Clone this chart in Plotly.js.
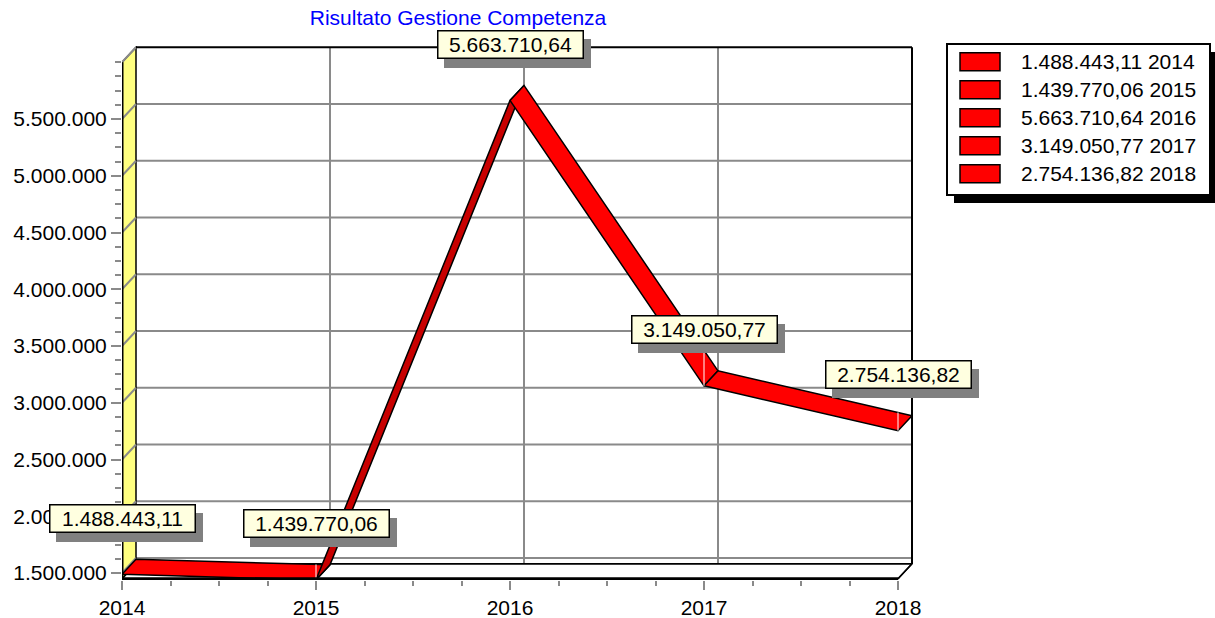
<!DOCTYPE html>
<html>
<head>
<meta charset="utf-8">
<script src="https://cdn.plot.ly/plotly-3.0.1.min.js"></script>
<style>html,body{margin:0;padding:0;background:#fff;}#chart{width:1215px;height:618px;}</style>
</head>
<body>
<div id="chart"></div>
<script>
// ---- data ----
const years = [2014, 2015, 2016, 2017, 2018];
const values = [1488443.11, 1439770.06, 5663710.64, 3149050.77, 2754136.82];
const valueLabels = ['1.488.443,11', '1.439.770,06', '5.663.710,64', '3.149.050,77', '2.754.136,82'];
const xTickLabels = ['2014', '2015', '2016', '2017', '2018'];
const yTickVals = [1500000, 2000000, 2500000, 3000000, 3500000, 4000000, 4500000, 5000000, 5500000, 6000000];
const yTickLabels = ['1.500.000', '2.000.000', '2.500.000', '3.000.000', '3.500.000', '4.000.000', '4.500.000', '5.000.000', '5.500.000', ''];
const titleText = 'Risultato Gestione Competenza';

// ---- geometry (style) ----
const FONT = 'Liberation Sans, Arial, Helvetica, sans-serif';
const L = 122, T = 46, B = 580, R = 913;
const PX_PER_YEAR = 194;
const PX_PER_UNIT = 56.75 / 500000;
const Y15_PX = 573;               // pixel row of 1.500.000
const yBottom = 1500000 - (B - Y15_PX) / PX_PER_UNIT;
const yTop = yBottom + (B - T) / PX_PER_UNIT;
const xMin = years[0];
const xMax = xMin + (R - L) / PX_PER_YEAR;
const DXP = 14, DYP = 15;          // depth offset in px
const DX = DXP / PX_PER_YEAR;
const DY = DYP / PX_PER_UNIT;
const FLOOR = 1450000;
const TOPV = 6000000;
const X0 = years[0], X1 = years[years.length - 1];
const MINOR_STEP = 125000;
const yMinorVals = [];
for (let v = yTickVals[0]; v <= TOPV; v += MINOR_STEP) yMinorVals.push(v);

const GRID = '#8a8a8a';
const shapes = [];
const line = (x0, y0, x1, y1, color, width, layer) => shapes.push({type: 'line', xref: 'x', yref: 'y', x0, y0, x1, y1, line: {color, width}, layer: layer || 'below'});
const path = (pts, fill, color, width, layer, ref) => {
  let d = pts.map((p, i) => (i ? 'L' : 'M') + p[0] + ',' + p[1]).join(' ') + ' Z';
  shapes.push({type: 'path', xref: ref || 'x', yref: ref || 'y', path: d, fillcolor: fill, line: {color, width}, layer: layer || 'below'});
};

// floor
path([[X0, FLOOR], [X1, FLOOR], [X1 + DX, FLOOR + DY], [X0 + DX, FLOOR + DY]], '#ffffff', '#000', 1.5);
// back wall gridlines
for (const v of yTickVals.slice(0, -1)) line(X0 + DX, v + DY, X1 + DX, v + DY, GRID, 2);
for (const yr of years.slice(1, -1)) line(yr + DX, FLOOR + DY, yr + DX, TOPV + DY, GRID, 2);
// left wall
path([[X0, FLOOR], [X0, TOPV], [X0 + DX, TOPV + DY], [X0 + DX, FLOOR + DY]], '#ffff80', '#000', 1.5);
for (const v of yTickVals) line(X0, v, X0 + DX, v + DY, GRID, 2);
// back wall outline
line(X0 + DX, TOPV + DY, X1 + DX, TOPV + DY, '#000', 2);
line(X1 + DX, FLOOR + DY, X1 + DX, TOPV + DY, '#000', 2);
line(X1, FLOOR, X1 + DX, FLOOR + DY, '#000', 1.5);
line(X0 + DX, FLOOR + DY, X1 + DX, FLOOR + DY, '#000', 1.5);
// front edges (above ribbon)
line(X0, FLOOR, X0, TOPV, '#000', 3, 'above');
line(X0, FLOOR, X1, FLOOR, '#000', 3, 'above');

// ---- ribbon traces ----
const traces = [];
for (let i = 0; i < years.length - 1; i++) {
  const x1 = years[i], x2 = years[i + 1], v1 = values[i], v2 = values[i + 1];
  const dxp = (x2 - x1) * PX_PER_YEAR, dyp = -(v2 - v1) * PX_PER_UNIT;
  const cross = dxp * (-DYP) - dyp * DXP;
  traces.push({
    type: 'scatter', mode: 'lines', hoverinfo: 'skip', showlegend: false,
    x: [x1, x2, x2 + DX, x1 + DX, x1],
    y: [v1, v2, v2 + DY, v1 + DY, v1],
    fill: 'toself', fillcolor: cross > 0 ? '#c80000' : '#ff0000',
    line: {color: '#000', width: 1.5}
  });
}
// seams at vertices
for (let i = 0; i < years.length; i++) {
  const x = years[i], v = values[i];
  const cands = [v];
  if (i > 0) {
    const xa = years[i - 1] + DX, va = values[i - 1] + DY, xb = years[i] + DX, vb = values[i] + DY;
    if (x >= xa && x <= xb) cands.push(va + (vb - va) * (x - xa) / (xb - xa));
  }
  if (i < years.length - 1) {
    const xa = years[i] + DX, va = values[i] + DY, xb = years[i + 1] + DX, vb = values[i + 1] + DY;
    if (x >= xa && x <= xb) cands.push(va + (vb - va) * (x - xa) / (xb - xa));
  }
  traces.push({type: 'scatter', mode: 'lines', hoverinfo: 'skip', showlegend: false,
    x: [x, x], y: [v, Math.max(...cands)], line: {color: '#ffffff', width: 1}});
}

// ---- annotations ----
const annotations = [];
const SHIFT = 56;
for (let i = 0; i < years.length; i++) {
  const base = {x: years[i], y: values[i], xref: 'x', yref: 'y', showarrow: false,
    xanchor: 'center', yanchor: 'middle', width: 140, height: 22, borderpad: 2, borderwidth: 1.5, align: 'center'};
  annotations.push(Object.assign({}, base, {text: ' ', xshift: 7, yshift: SHIFT - 9, bgcolor: '#808080', bordercolor: '#808080', font: {family: FONT, size: 21, color: '#808080'}}));
  annotations.push(Object.assign({}, base, {text: valueLabels[i], yshift: SHIFT, bgcolor: '#ffffe0', bordercolor: '#000', font: {family: FONT, size: 21, color: '#000'}}));
}
// legend (drawn manually)
const px2x = px => (px - L) / (R - L);
const px2y = py => (B - py) / (B - T);
const rectP = (x0, y0, x1, y1, fill, color, width) => shapes.push({type: 'rect', xref: 'paper', yref: 'paper', x0: px2x(x0), x1: px2x(x1), y0: px2y(y1), y1: px2y(y0), fillcolor: fill, line: {color, width}, layer: 'above'});
rectP(954, 52, 1217, 203, '#000', '#000', 0);
rectP(947, 44, 1210, 195, '#fff', '#000', 2);
for (let i = 0; i < years.length; i++) {
  const cy = 61.7 + 28 * i;
  rectP(960, cy - 9, 1000, cy + 9, '#ff0000', '#000', 1.5);
  annotations.push({xref: 'paper', yref: 'paper', x: px2x(1019), y: px2y(cy), xanchor: 'left', yanchor: 'middle', showarrow: false,
    text: valueLabels[i] + ' ' + xTickLabels[i], font: {family: FONT, size: 21, color: '#000'}});
}

const layout = {
  width: 1215, height: 618,
  margin: {l: L, r: 1215 - R, t: T, b: 618 - B, pad: 0},
  paper_bgcolor: '#fff', plot_bgcolor: '#fff',
  showlegend: false,
  title: {text: titleText, xref: 'container', x: 458 / 1215, xanchor: 'center', yref: 'container', y: 1 - 18 / 618, yanchor: 'middle',
    font: {family: FONT, size: 21, color: '#0000ff'}},
  xaxis: {range: [xMin, xMax], tickmode: 'array', tickvals: years, ticktext: xTickLabels, ticks: 'outside', ticklen: 9, tickwidth: 2, tickcolor: GRID,
    showgrid: false, zeroline: false, showline: false, automargin: false, fixedrange: true,
    tickfont: {family: FONT, size: 21, color: '#000'},
    minor: {tickmode: 'linear', tick0: 2014, dtick: 0.25, ticks: 'outside', ticklen: 5, tickwidth: 2, tickcolor: GRID, showgrid: false}},
  yaxis: {range: [yBottom, yTop], tickmode: 'array', tickvals: yTickVals, ticktext: yTickLabels, ticks: 'outside', ticklen: 10, tickwidth: 2, tickcolor: GRID,
    showgrid: false, zeroline: false, showline: false, automargin: false, fixedrange: true,
    tickfont: {family: FONT, size: 21, color: '#000'},
    minor: {tickmode: 'array', tickvals: yMinorVals, ticks: 'outside', ticklen: 6, tickwidth: 2, tickcolor: GRID, showgrid: false}},
  shapes, annotations
};
Plotly.newPlot('chart', traces, layout, {displayModeBar: false, staticPlot: true});
</script>
</body>
</html>
